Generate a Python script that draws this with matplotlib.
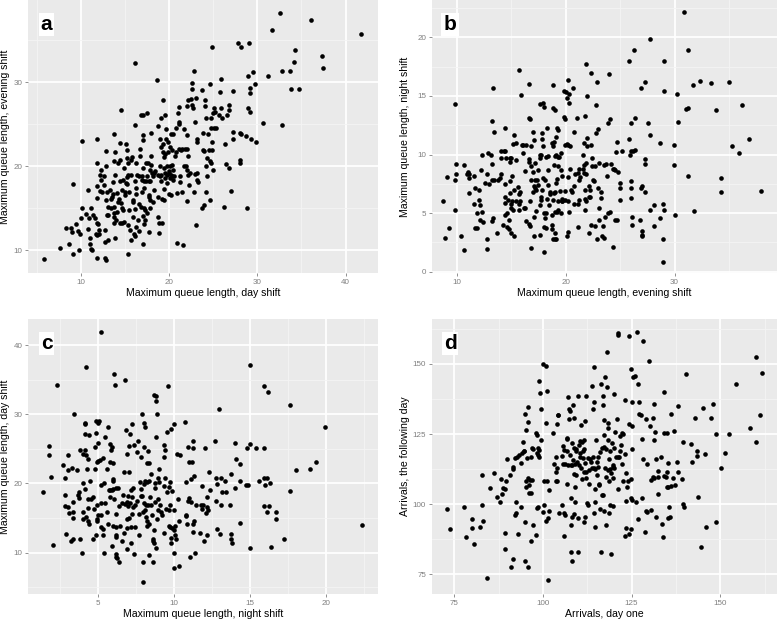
import numpy as np
import matplotlib
matplotlib.use("Agg")
import matplotlib.pyplot as plt
from matplotlib.ticker import MultipleLocator

plt.rcParams['font.family'] = ['Liberation Sans', 'DejaVu Sans']

# (day shift, evening shift) maximum queue lengths
day_evening = [
    (5.8, 9.0), (7.7, 10.3), (8.3, 12.6), (8.7, 10.7), (8.9, 12.7), (9.0, 12.2), (9.1, 9.6), (9.1, 17.9),
    (9.5, 13.1), (9.7, 12.3), (9.8, 10.0), (9.9, 11.9), (10.0, 13.9), (10.1, 15.0), (10.2, 23.0), (10.6, 14.3),
    (10.8, 17.2), (10.8, 12.5), (10.9, 13.8), (11.0, 11.5), (11.1, 10.8), (11.2, 10.2), (11.3, 10.0), (11.2, 15.0),
    (11.4, 14.2), (11.6, 13.8), (11.7, 12.0), (11.8, 11.8), (11.8, 9.1), (11.8, 13.3), (11.8, 23.2), (11.8, 20.4),
    (11.9, 16.2), (11.9, 17.6), (12.0, 13.1), (12.1, 12.4), (12.1, 12.0), (12.2, 19.0), (12.2, 17.1), (12.3, 19.6),
    (12.3, 18.4), (12.4, 17.0), (12.6, 17.8), (12.6, 18.9), (12.7, 12.4), (12.8, 9.1), (12.8, 11.0), (12.9, 8.8),
    (12.9, 16.0), (12.9, 20.0), (12.9, 21.8), (13.0, 14.2), (13.0, 17.0), (13.1, 11.2), (13.1, 14.2), (13.1, 15.2),
    (13.3, 17.2), (13.4, 16.1), (13.4, 15.0), (13.6, 16.4), (13.7, 18.1), (13.7, 16.7), (13.8, 14.0), (13.8, 13.3),
    (13.8, 14.4), (13.8, 15.2), (13.8, 20.6), (13.8, 23.8), (13.9, 21.7), (13.9, 19.0), (13.9, 11.5), (14.0, 13.6),
    (14.1, 14.6), (14.1, 16.8), (14.2, 20.4), (14.2, 15.8), (14.3, 16.1), (14.4, 22.8), (14.5, 13.2), (14.5, 18.3),
    (14.5, 20.8), (14.6, 15.6), (14.6, 26.7), (14.7, 17.2), (14.7, 15.0), (14.7, 13.3), (14.8, 18.4), (14.8, 14.8),
    (14.9, 13.4), (14.9, 19.8), (15.0, 16.6), (15.0, 17.0), (15.1, 22.7), (15.1, 18.0), (15.2, 17.9), (15.2, 18.7),
    (15.2, 21.0), (15.2, 22.0), (15.3, 13.0), (15.3, 9.6), (15.4, 20.4), (15.4, 19.0), (15.5, 14.8), (15.5, 17.0),
    (15.6, 12.4), (15.7, 11.2), (15.7, 19.0), (15.7, 20.8), (15.8, 21.1), (15.9, 14.0), (15.9, 16.0), (15.9, 15.7),
    (16.0, 12.0), (16.1, 11.7), (16.1, 14.9), (16.2, 32.3), (16.2, 18.3), (16.2, 24.9), (16.3, 12.8), (16.3, 16.7),
    (16.3, 17.4), (16.3, 20.4), (16.4, 19.0), (16.5, 13.6), (16.6, 12.3), (16.6, 15.5), (16.6, 18.9), (16.7, 22.1),
    (16.7, 21.2), (16.8, 26.1), (16.8, 15.2), (16.9, 16.9), (16.9, 18.4), (16.9, 18.9), (17.0, 19.8), (17.0, 10.8),
    (17.1, 23.1), (17.1, 26.1), (17.1, 14.1), (17.1, 23.7), (17.2, 15.0), (17.2, 17.4), (17.2, 18.3), (17.2, 13.1),
    (17.3, 14.8), (17.3, 13.6), (17.4, 18.3), (17.4, 20.4), (17.5, 14.5), (17.5, 18.8), (17.5, 26.3), (17.6, 20.4),
    (17.7, 12.2), (17.7, 16.6), (17.7, 18.2), (17.7, 16.3), (17.8, 18.2), (17.9, 16.0), (17.9, 19.6), (17.9, 15.0),
    (18.0, 24.0), (18.0, 20.2), (18.0, 21.2), (18.1, 19.2), (18.2, 18.8), (18.2, 15.8), (18.3, 17.2), (18.3, 19.2),
    (18.4, 19.4), (18.6, 30.3), (18.7, 14.0), (18.7, 19.0), (18.8, 24.8), (18.8, 16.3), (18.9, 12.1), (18.9, 13.2),
    (19.0, 18.8), (19.0, 23.3), (19.0, 20.0), (19.1, 25.7), (19.1, 18.2), (19.1, 22.3), (19.1, 19.0), (19.2, 16.1),
    (19.2, 13.3), (19.3, 27.9), (19.3, 21.7), (19.3, 22.7), (19.4, 17.3), (19.4, 16.0), (19.4, 19.8), (19.4, 21.1),
    (19.5, 19.2), (19.5, 26.1), (19.5, 18.6), (19.6, 21.5), (19.7, 23.3), (19.7, 24.4), (19.8, 18.0), (19.8, 19.0),
    (19.8, 20.0), (19.9, 21.7), (19.9, 22.9), (20.0, 19.4), (20.0, 16.7), (20.0, 19.2), (20.1, 20.0), (20.1, 18.6),
    (20.1, 22.3), (20.2, 16.6), (20.2, 19.0), (20.2, 23.9), (20.3, 21.9), (20.3, 18.8), (20.3, 20.1), (20.4, 23.8),
    (20.5, 18.4), (20.5, 19.6), (20.6, 18.8), (20.7, 21.2), (20.8, 24.6), (20.8, 21.7), (20.9, 10.9), (20.9, 16.8),
    (21.0, 26.3), (21.1, 27.1), (21.1, 22.1), (21.1, 25.3), (21.1, 25.0), (21.2, 18.8), (21.3, 18.1), (21.4, 22.0),
    (21.5, 16.9), (21.5, 22.1), (21.6, 10.6), (21.7, 20.0), (21.7, 24.5), (21.8, 22.1), (21.9, 20.0), (22.0, 27.2),
    (22.0, 15.9), (22.0, 19.6), (22.0, 23.7), (22.0, 22.1), (22.1, 27.9), (22.2, 19.0), (22.2, 21.2), (22.3, 17.8),
    (22.4, 19.2), (22.5, 28.0), (22.6, 27.3), (22.6, 29.2), (22.6, 29.9), (22.7, 26.9), (22.8, 16.9), (22.8, 31.3),
    (22.9, 19.1), (23.0, 25.3), (23.1, 13.0), (23.1, 28.1), (23.2, 23.3), (23.2, 19.2), (23.2, 18.4), (23.3, 18.1),
    (23.2, 22.9), (23.7, 29.1), (23.7, 15.0), (23.8, 21.9), (23.9, 24.0), (24.0, 21.8), (24.0, 15.4), (24.1, 27.9),
    (24.1, 27.2), (24.2, 17.0), (24.2, 20.0), (24.2, 25.7), (24.3, 18.8), (24.3, 21.0), (24.4, 23.8), (24.5, 21.9),
    (24.6, 20.6), (24.6, 29.8), (24.6, 16.0), (24.7, 20.4), (24.8, 24.6), (24.8, 25.7), (24.9, 22.9), (24.9, 34.2),
    (24.9, 21.9), (25.0, 19.6), (25.0, 26.4), (25.1, 24.6), (25.1, 26.9), (25.2, 26.5), (25.3, 24.6), (25.7, 26.1),
    (25.8, 28.8), (25.9, 30.4), (25.9, 26.9), (26.0, 25.8), (26.2, 15.2), (26.3, 22.7), (26.4, 20.3), (26.6, 26.1),
    (26.8, 26.7), (26.8, 19.8), (26.8, 27.3), (27.0, 17.1), (27.2, 24.1), (27.2, 29.0), (27.2, 23.3), (27.8, 34.7),
    (28.0, 24.0), (28.0, 20.8), (28.0, 20.4), (28.1, 34.2), (28.1, 23.9), (28.7, 23.6), (28.8, 15.0), (28.9, 27.0),
    (29.0, 30.8), (29.1, 34.7), (29.2, 26.5), (29.2, 29.3), (29.2, 28.7), (29.3, 23.3), (29.5, 31.2), (29.7, 29.8),
    (29.9, 22.9), (30.7, 25.2), (31.2, 30.8), (31.7, 36.2), (32.6, 38.3), (32.8, 24.9), (32.8, 31.4), (33.7, 31.3),
    (33.8, 29.2), (34.1, 32.4), (34.3, 33.8), (34.7, 29.2), (36.1, 37.4), (37.3, 33.1), (37.4, 31.7), (41.8, 35.7),
]

# (evening shift, night shift) maximum queue lengths
evening_night = [
    (8.7, 6.0), (8.9, 2.9), (9.1, 8.1), (9.3, 3.7), (9.8, 14.3), (9.8, 7.8), (9.8, 5.3), (9.9, 9.2),
    (9.9, 8.3), (10.4, 3.0), (10.7, 9.1), (10.7, 1.85), (10.9, 8.3), (11.0, 8.5), (11.1, 6.7), (11.1, 8.0),
    (11.1, 8.3), (11.6, 8.2), (11.6, 5.8), (11.7, 7.1), (11.7, 3.7), (11.9, 3.7), (11.9, 5.0), (12.0, 6.1),
    (12.0, 7.0), (12.1, 5.7), (12.1, 4.4), (12.2, 8.7), (12.3, 10.0), (12.3, 5.1), (12.4, 4.2), (12.6, 7.6),
    (12.8, 1.9), (12.8, 2.8), (12.8, 8.3), (12.9, 10.1), (13.0, 7.5), (13.1, 10.0), (13.2, 7.8), (13.2, 4.3),
    (13.2, 9.2), (13.2, 12.9), (13.3, 4.6), (13.3, 15.7), (13.4, 11.9), (13.4, 7.8), (13.7, 3.3), (13.8, 7.8),
    (14.0, 8.0), (14.1, 8.3), (14.1, 10.3), (14.1, 9.7), (14.2, 4.0), (14.3, 10.3), (14.4, 12.3), (14.4, 10.3),
    (14.4, 7.5), (14.4, 6.4), (14.4, 5.9), (14.4, 4.8), (14.5, 9.7), (14.6, 5.0), (14.6, 3.8), (14.7, 6.1),
    (14.8, 3.6), (14.8, 4.4), (14.9, 9.4), (14.9, 6.7), (14.9, 7.7), (14.9, 9.7), (15.0, 5.4), (15.0, 5.8),
    (15.0, 3.3), (15.0, 9.7), (15.1, 6.0), (15.1, 8.2), (15.2, 10.9), (15.2, 5.3), (15.3, 3.0), (15.3, 11.7),
    (15.3, 7.0), (15.4, 11.0), (15.4, 9.5), (15.4, 6.0), (15.6, 7.2), (15.7, 17.2), (15.7, 6.6), (15.7, 5.3),
    (15.7, 5.8), (15.8, 6.0), (15.8, 6.8), (15.9, 15.1), (16.0, 10.8), (16.1, 10.1), (16.1, 10.8), (16.2, 5.4),
    (16.3, 5.4), (16.3, 8.6), (16.4, 10.8), (16.4, 4.3), (16.6, 9.6), (16.6, 16.0), (16.6, 13.1), (16.7, 13.0),
    (16.6, 9.4), (16.6, 4.1), (16.7, 6.0), (16.7, 3.9), (16.8, 2.0), (16.8, 10.7), (16.8, 7.8), (16.8, 9.0),
    (17.0, 6.8), (17.0, 8.5), (17.0, 11.9), (17.1, 7.3), (17.1, 4.7), (17.1, 3.0), (17.1, 11.2), (17.2, 9.3),
    (17.2, 7.1), (17.2, 7.8), (17.3, 5.2), (17.3, 7.0), (17.4, 7.8), (17.5, 7.4), (17.5, 8.7), (17.6, 9.7),
    (17.6, 10.0), (17.6, 3.1), (17.6, 5.7), (17.6, 14.3), (17.7, 6.1), (17.7, 6.4), (17.7, 10.0), (17.8, 7.0),
    (17.8, 11.3), (17.8, 11.8), (17.9, 14.4), (17.9, 10.7), (17.9, 8.0), (18.0, 14.1), (18.0, 5.0), (18.0, 3.8),
    (18.0, 1.7), (18.1, 7.8), (18.1, 4.6), (18.2, 3.7), (18.2, 9.8), (18.2, 5.0), (18.3, 6.2), (18.3, 12.3),
    (18.4, 8.7), (18.4, 9.9), (18.4, 7.4), (18.5, 5.7), (18.6, 6.6), (18.6, 6.8), (18.7, 4.0), (18.7, 11.0),
    (18.7, 4.8), (18.7, 3.6), (18.8, 6.1), (18.8, 15.9), (18.8, 2.8), (18.8, 10.7), (18.8, 14.0), (18.9, 11.1),
    (18.9, 9.1), (18.9, 6.7), (19.0, 13.8), (19.0, 2.8), (19.0, 9.9), (19.0, 3.3), (19.0, 5.1), (19.0, 6.8),
    (19.1, 11.5), (19.1, 2.8), (19.1, 10.0), (19.1, 7.6), (19.2, 7.9), (19.2, 5.1), (19.2, 12.3), (19.3, 12.1),
    (19.3, 9.8), (19.3, 9.0), (19.3, 6.0), (19.3, 5.3), (19.4, 9.8), (19.5, 6.9), (19.6, 10.1), (19.6, 8.7),
    (19.6, 5.0), (19.7, 6.0), (19.7, 6.0), (19.7, 8.2), (19.7, 6.2), (19.8, 13.2), (19.8, 15.4), (19.9, 13.0),
    (19.9, 10.8), (19.9, 6.9), (19.9, 6.1), (20.0, 15.3), (20.1, 14.8), (20.1, 3.0), (20.1, 10.9), (20.2, 16.4),
    (20.2, 10.8), (20.2, 3.4), (20.2, 8.1), (20.2, 6.0), (20.3, 15.2), (20.3, 14.4), (20.3, 5.1), (20.4, 10.7),
    (20.4, 8.8), (20.5, 7.0), (20.6, 6.8), (20.7, 15.7), (20.8, 11.9), (20.8, 7.3), (20.8, 5.8), (20.9, 8.3),
    (21.0, 13.1), (21.1, 3.8), (21.1, 5.8), (21.1, 8.4), (21.2, 8.8), (21.2, 6.1), (21.2, 7.8), (21.3, 8.1),
    (21.6, 8.8), (21.6, 10.0), (21.7, 11.0), (21.7, 9.1), (21.7, 8.4), (21.8, 7.0), (21.8, 6.2), (21.8, 5.3),
    (21.8, 13.3), (21.9, 17.7), (21.9, 9.3), (21.9, 8.3), (21.9, 6.0), (22.0, 11.4), (22.0, 15.0), (22.0, 10.7),
    (22.1, 6.4), (22.1, 7.3), (22.1, 3.3), (22.2, 7.0), (22.2, 6.4), (22.3, 10.8), (22.3, 4.0), (22.3, 17.0),
    (22.4, 9.7), (22.4, 9.0), (22.5, 7.8), (22.6, 7.7), (22.7, 3.9), (22.7, 9.0), (22.8, 14.2), (22.8, 11.8),
    (22.9, 16.2), (22.9, 2.8), (23.0, 7.1), (23.0, 12.2), (23.1, 4.4), (23.1, 9.3), (23.1, 5.4), (23.2, 6.3),
    (23.2, 6.8), (23.3, 3.0), (23.4, 3.9), (23.5, 2.9), (23.5, 9.1), (23.6, 4.7), (23.7, 9.2), (23.8, 8.2),
    (23.9, 12.7), (23.9, 5.0), (24.0, 16.9), (24.1, 13.0), (24.1, 5.1), (24.2, 9.2), (24.3, 2.1), (24.3, 8.8),
    (24.4, 8.8), (24.5, 4.4), (24.5, 8.7), (24.6, 10.2), (24.7, 11.1), (24.7, 4.4), (24.8, 8.5), (25.0, 7.6),
    (25.0, 6.1), (25.0, 7.1), (25.2, 10.3), (25.8, 18.0), (25.8, 11.3), (25.9, 10.0), (26.0, 7.7), (26.0, 7.1),
    (26.0, 6.3), (26.0, 12.7), (26.0, 10.3), (26.1, 4.7), (26.1, 4.0), (26.2, 10.3), (26.3, 18.9), (26.4, 13.1),
    (26.4, 10.4), (26.8, 4.4), (26.9, 15.7), (26.9, 7.1), (27.0, 7.3), (27.0, 3.1), (27.0, 3.5), (27.0, 3.0),
    (27.3, 6.8), (27.3, 16.2), (27.3, 9.2), (27.3, 9.6), (27.6, 12.7), (27.7, 19.9), (27.7, 5.3), (27.7, 11.7),
    (28.1, 5.7), (28.1, 3.9), (28.7, 11.0), (28.7, 4.6), (28.9, 2.8), (28.9, 5.8), (29.0, 5.3), (29.0, 15.4),
    (29.0, 18.0), (28.9, 0.85), (29.9, 10.8), (29.9, 9.1), (30.0, 4.8), (30.2, 15.2), (30.3, 12.8), (30.9, 22.2),
    (31.0, 13.9), (31.2, 14.0), (31.2, 18.9), (31.2, 8.2), (31.7, 15.9), (31.8, 5.2), (32.3, 16.3), (33.3, 16.1),
    (33.8, 13.8), (34.3, 8.0), (34.3, 6.8), (35.0, 16.2), (35.3, 10.7), (35.9, 10.1), (36.2, 14.2), (36.8, 11.3),
    (37.9, 6.9),
]

# (night shift, day shift) maximum queue lengths
night_day = [
    (1.37, 18.7), (1.77, 25.4), (1.77, 24.1), (1.86, 20.9), (2.03, 11.1), (2.32, 34.2), (2.65, 22.7), (2.8, 20.8),
    (2.8, 18.3), (2.8, 16.8), (2.91, 12.7), (2.98, 21.9), (3.02, 24.1), (3.02, 16.6), (3.09, 15.7), (3.22, 11.6),
    (3.3, 22.2), (3.33, 15.8), (3.35, 11.9), (3.35, 17.3), (3.37, 15.0), (3.4, 30.0), (3.6, 21.9), (3.68, 18.4),
    (3.72, 18.7), (3.75, 17.9), (3.8, 24.9), (3.8, 11.9), (3.9, 10.0), (4.0, 24.3), (4.0, 20.0), (4.0, 14.9),
    (4.0, 15.8), (4.1, 24.9), (4.1, 28.8), (4.1, 28.6), (4.1, 27.2), (4.14, 19.2), (4.17, 15.1), (4.2, 24.1),
    (4.2, 36.9), (4.27, 22.1), (4.3, 23.5), (4.3, 14.6), (4.34, 17.8), (4.34, 16.4), (4.36, 27.0), (4.4, 14.2),
    (4.45, 20.4), (4.5, 17.7), (4.67, 12.0), (4.67, 18.1), (4.7, 16.3), (4.76, 25.3), (4.78, 22.1), (4.82, 27.3),
    (4.85, 29.1), (4.87, 12.5), (4.9, 16.9), (4.9, 23.1), (4.9, 14.9), (4.93, 14.5), (4.96, 15.5), (5.0, 23.2),
    (5.0, 28.7), (5.0, 25.9), (5.07, 29.1), (5.1, 23.4), (5.15, 17.1), (5.17, 13.7), (5.2, 15.4), (5.2, 41.9),
    (5.2, 19.8), (5.3, 13.4), (5.3, 23.7), (5.33, 12.6), (5.37, 20.1), (5.4, 10.0), (5.42, 26.7), (5.46, 17.2),
    (5.55, 22.1), (5.6, 15.9), (5.66, 14.2), (5.66, 28.2), (5.7, 19.0), (5.77, 19.0), (5.8, 23.1), (5.8, 25.7),
    (5.8, 18.0), (5.83, 24.9), (5.88, 19.0), (5.88, 25.3), (5.92, 11.0), (5.95, 13.9), (5.97, 19.2), (6.0, 20.3),
    (6.0, 20.7), (6.0, 22.9), (6.03, 17.8), (6.05, 35.8), (6.1, 34.2), (6.14, 13.7), (6.14, 19.3), (6.16, 15.6),
    (6.16, 12.6), (6.16, 12.2), (6.2, 9.8), (6.2, 9.3), (6.25, 9.2), (6.3, 19.3), (6.38, 8.6), (6.38, 16.8),
    (6.43, 13.9), (6.54, 11.6), (6.58, 17.1), (6.65, 18.4), (6.7, 12.9), (6.7, 21.7), (6.74, 17.0), (6.78, 35.0),
    (6.82, 27.7), (6.87, 14.9), (6.87, 13.6), (6.9, 17.3), (6.9, 24.3), (6.9, 10.5), (6.96, 18.2), (6.98, 16.8),
    (7.0, 25.4), (7.04, 21.6), (7.04, 15.0), (7.1, 17.1), (7.1, 27.2), (7.13, 13.7), (7.15, 11.4), (7.18, 19.0),
    (7.2, 28.6), (7.2, 18.0), (7.24, 15.6), (7.3, 19.3), (7.3, 16.6), (7.35, 9.8), (7.37, 25.6), (7.4, 13.7),
    (7.42, 16.9), (7.53, 17.4), (7.53, 24.6), (7.64, 26.1), (7.68, 12.5), (7.7, 15.6), (7.75, 20.2), (7.8, 18.2),
    (7.82, 23.8), (7.84, 19.2), (7.86, 30.0), (7.9, 18.2), (7.92, 8.7), (7.97, 5.8), (7.97, 15.8), (8.0, 17.2),
    (8.0, 28.7), (8.03, 19.9), (8.03, 25.3), (8.08, 20.4), (8.1, 28.2), (8.1, 16.2), (8.14, 16.9), (8.14, 15.1),
    (8.2, 22.9), (8.2, 14.5), (8.2, 13.9), (8.23, 20.2), (8.25, 24.7), (8.3, 16.9), (8.32, 9.7), (8.34, 22.9),
    (8.36, 20.3), (8.36, 14.2), (8.4, 18.0), (8.45, 21.3), (8.5, 16.9), (8.55, 15.5), (8.63, 12.0), (8.63, 11.6),
    (8.63, 8.7), (8.65, 13.3), (8.67, 11.4), (8.67, 32.8), (8.73, 19.3), (8.73, 20.1), (8.76, 17.3), (8.8, 26.7),
    (8.8, 10.6), (8.8, 32.0), (8.8, 32.7), (8.85, 14.9), (8.85, 30.1), (8.9, 17.8), (8.93, 16.2), (8.96, 20.8),
    (9.0, 22.1), (9.02, 20.2), (9.07, 16.9), (9.1, 15.9), (9.18, 15.4), (9.3, 12.9), (9.3, 23.8), (9.33, 25.6),
    (9.35, 19.7), (9.4, 24.8), (9.4, 20.8), (9.46, 16.3), (9.5, 18.7), (9.55, 27.5), (9.6, 34.1), (9.64, 13.9),
    (9.66, 16.1), (9.68, 19.5), (9.7, 16.9), (9.73, 13.7), (9.73, 20.2), (9.77, 11.4), (9.77, 27.9), (9.8, 12.1),
    (9.84, 13.5), (9.88, 18.9), (9.95, 16.1), (9.95, 9.95), (10.0, 28.6), (10.0, 7.7), (10.0, 13.2), (10.06, 12.5),
    (10.08, 13.8), (10.1, 12.0), (10.2, 24.2), (10.27, 17.8), (10.3, 8.0), (10.34, 14.6), (10.4, 24.1), (10.7, 28.9),
    (10.76, 15.3), (10.8, 15.5), (10.8, 20.2), (10.87, 14.1), (10.9, 25.3), (10.9, 17.5), (10.98, 23.1), (11.0, 17.9),
    (11.04, 9.3), (11.1, 20.6), (11.1, 17.3), (11.15, 23.1), (11.2, 25.1), (11.2, 13.0), (11.2, 26.2), (11.26, 14.1),
    (11.3, 21.1), (11.33, 14.5), (11.37, 10.0), (11.4, 16.9), (11.7, 12.9), (11.77, 16.9), (11.8, 19.6), (11.8, 16.3),
    (11.88, 16.9), (11.97, 11.7), (12.0, 25.1), (12.08, 15.7), (12.14, 18.0), (12.14, 12.6), (12.14, 16.6), (12.25, 16.2),
    (12.3, 21.7), (12.36, 19.0), (12.7, 26.1), (12.76, 17.5), (12.76, 20.8), (12.8, 19.9), (12.8, 13.4), (12.96, 30.8),
    (13.0, 12.7), (13.07, 20.8), (13.1, 16.9), (13.13, 18.7), (13.35, 20.3), (13.4, 18.7), (13.64, 16.9), (13.7, 12.0),
    (13.73, 21.3), (13.75, 12.7), (13.8, 11.4), (14.0, 25.9), (14.0, 19.3), (14.05, 23.5), (14.3, 22.8), (14.3, 14.3),
    (14.34, 20.4), (14.74, 19.8), (14.8, 25.1), (14.85, 19.8), (14.96, 25.7), (14.96, 37.1), (14.96, 10.6), (15.35, 25.1),
    (15.6, 20.3), (15.9, 34.1), (15.9, 25.1), (15.9, 16.8), (15.9, 20.8), (16.0, 19.8), (16.1, 15.8), (16.1, 20.8),
    (16.14, 33.2), (16.2, 16.8), (16.3, 20.0), (16.36, 10.8), (16.7, 14.9), (16.7, 15.9), (17.24, 11.9), (17.6, 31.4),
    (17.6, 18.9), (18.0, 22.0), (18.96, 22.1), (19.3, 23.1), (19.9, 28.1), (22.36, 14.0),
]

# (arrivals day one, arrivals the following day)
arrivals_pairs = [
    (73.0, 98.2), (73.8, 91.2), (77.8, 99.1), (78.2, 88.2), (79.9, 94.7), (79.9, 91.6), (80.6, 85.7), (82.2, 92.0),
    (82.7, 99.7), (82.9, 110.4), (83.2, 94.0), (84.2, 73.6), (85.1, 105.7), (86.3, 111.0), (87.1, 102.7), (87.9, 100.9),
    (88.1, 109.0), (88.5, 103.5), (88.8, 105.7), (89.3, 105.3), (89.3, 89.9), (89.4, 84.0), (89.6, 108.3), (89.9, 116.1),
    (90.7, 110.4), (91.0, 77.7), (91.4, 112.5), (91.6, 80.5), (91.6, 113.2), (92.1, 116.4), (92.1, 96.2), (92.3, 100.9),
    (92.4, 97.0), (92.6, 117.0), (93.0, 89.3), (93.3, 117.6), (93.7, 99.1), (93.8, 114.6), (94.0, 118.4), (94.3, 122.1),
    (94.5, 118.8), (94.7, 119.0), (94.9, 132.2), (94.9, 79.8), (95.0, 93.5), (95.1, 108.1), (95.2, 126.5), (95.2, 106.3),
    (95.4, 116.4), (95.7, 129.2), (95.9, 134.8), (95.9, 109.5), (95.9, 77.5), (96.1, 103.9), (96.1, 106.9), (96.3, 108.7),
    (96.5, 103.9), (96.5, 117.0), (96.6, 86.9), (96.8, 108.7), (97.0, 120.2), (97.1, 92.6), (97.2, 119.7), (97.9, 89.0),
    (98.0, 125.3), (98.2, 118.1), (98.2, 124.7), (98.4, 98.8), (98.5, 117.6), (98.7, 120.2), (98.7, 99.1), (98.9, 144.0),
    (99.0, 119.4), (99.0, 117.0), (99.2, 139.6), (99.4, 122.9), (99.4, 133.9), (100.1, 150.0), (100.1, 97.1), (100.2, 99.7),
    (100.3, 108.4), (100.8, 149.3), (100.8, 94.0), (100.8, 128.9), (101.0, 140.2), (101.0, 108.1), (101.3, 95.0), (101.5, 73.0),
    (101.7, 97.4), (101.8, 105.1), (102.9, 125.3), (103.2, 114.2), (103.6, 117.0), (103.6, 111.6), (103.8, 108.3), (103.9, 128.5),
    (104.0, 112.8), (104.0, 108.1), (104.1, 131.8), (104.3, 131.8), (104.6, 96.8), (105.3, 99.7), (105.3, 117.2), (105.5, 114.2),
    (105.5, 120.9), (105.8, 96.8), (105.9, 88.8), (106.0, 119.4), (106.2, 96.2), (106.2, 114.2), (106.7, 123.3), (106.7, 107.1),
    (106.9, 123.5), (106.9, 119.0), (107.0, 138.1), (107.1, 114.0), (107.4, 130.4), (107.4, 134.0), (107.6, 133.3), (107.6, 117.6),
    (107.8, 102.1), (107.8, 83.1), (107.9, 114.0), (107.9, 92.6), (108.1, 79.8), (108.1, 113.8), (108.3, 95.6), (108.3, 121.7),
    (108.4, 135.2), (108.5, 115.8), (108.6, 110.7), (108.7, 130.6), (108.8, 96.5), (108.8, 119.9), (109.0, 100.9), (109.0, 106.3),
    (109.0, 114.2), (109.2, 118.8), (109.3, 119.6), (109.3, 110.4), (109.5, 115.2), (109.8, 83.1), (110.0, 95.2), (110.0, 138.4),
    (110.2, 121.2), (110.2, 114.0), (110.3, 116.7), (110.4, 122.6), (110.4, 118.4), (110.7, 128.2), (110.7, 112.8), (110.9, 122.3),
    (111.1, 109.0), (111.2, 118.8), (111.4, 116.4), (111.5, 111.4), (111.6, 119.6), (111.7, 93.5), (111.7, 123.0), (111.8, 114.6),
    (111.8, 95.5), (111.9, 129.5), (112.0, 138.7), (112.1, 111.6), (112.1, 109.2), (112.5, 100.3), (112.6, 99.7), (112.8, 116.6),
    (113.0, 112.2), (113.1, 107.1), (113.3, 116.1), (113.5, 115.0), (113.7, 112.8), (113.9, 142.2), (114.1, 117.0), (114.2, 134.0),
    (114.3, 112.8), (114.5, 96.8), (114.4, 136.4), (114.3, 149.0), (114.7, 100.9), (114.7, 112.6), (114.7, 105.3), (114.8, 92.0),
    (114.9, 122.9), (115.1, 115.2), (115.3, 110.4), (115.4, 116.7), (115.6, 113.4), (115.8, 106.9), (115.9, 107.1), (116.1, 98.3),
    (116.1, 118.5), (116.3, 142.9), (116.4, 83.1), (116.5, 103.3), (116.7, 119.9), (116.8, 135.2), (116.9, 103.3), (116.9, 138.7),
    (117.2, 124.7), (117.2, 120.5), (117.3, 130.1), (117.3, 97.4), (117.5, 145.2), (117.5, 112.8), (117.7, 119.7), (117.8, 109.8),
    (117.9, 92.6), (118.1, 154.4), (118.1, 141.9), (118.2, 122.9), (118.2, 128.9), (118.4, 127.1), (118.4, 112.2), (118.6, 116.1),
    (118.6, 108.1), (118.7, 96.8), (118.9, 112.6), (119.0, 119.0), (119.0, 99.7), (119.2, 111.0), (119.2, 82.1), (119.4, 121.7),
    (119.6, 109.2), (119.6, 114.0), (119.7, 99.4), (119.8, 113.1), (119.9, 119.9), (120.1, 139.2), (120.1, 112.8), (120.3, 125.9),
    (120.6, 117.0), (120.8, 130.3), (121.1, 117.0), (121.1, 161.0), (121.2, 105.4), (121.2, 160.4), (121.5, 117.0), (121.7, 124.3),
    (121.7, 118.8), (121.9, 121.1), (122.2, 125.3), (122.4, 114.2), (122.5, 124.9), (122.7, 108.1), (123.0, 117.8), (123.2, 137.2),
    (123.2, 88.7), (123.4, 111.0), (123.4, 91.6), (123.4, 101.2), (123.8, 106.3), (124.1, 108.1), (124.2, 89.3), (124.3, 160.1),
    (124.3, 128.5), (124.7, 148.2), (124.7, 91.2), (124.7, 102.3), (124.8, 109.0), (125.0, 119.7), (125.0, 128.0), (125.2, 136.6),
    (125.2, 101.5), (125.5, 145.3), (126.0, 145.7), (126.1, 100.7), (126.4, 161.3), (126.9, 142.9), (126.9, 94.7), (127.1, 136.4),
    (127.1, 132.2), (127.6, 131.8), (128.0, 123.2), (128.0, 102.1), (128.1, 116.0), (128.3, 158.0), (128.8, 90.2), (129.0, 130.3),
    (129.0, 97.7), (129.2, 114.2), (129.4, 97.1), (129.9, 151.2), (130.2, 128.0), (130.4, 108.7), (130.5, 97.9), (131.0, 130.6),
    (131.1, 109.8), (131.3, 135.8), (131.4, 122.9), (131.4, 109.2), (131.6, 125.9), (131.8, 116.1), (132.0, 95.3), (132.3, 112.0),
    (132.3, 109.6), (132.5, 103.5), (133.3, 117.0), (133.7, 93.0), (133.9, 88.2), (134.0, 140.0), (134.1, 125.3), (134.2, 110.2),
    (134.6, 109.8), (134.9, 106.3), (134.9, 125.3), (135.1, 111.6), (135.2, 114.6), (135.3, 95.0), (135.3, 106.3), (135.6, 99.1),
    (135.8, 95.6), (136.0, 106.6), (136.1, 132.2), (136.7, 109.2), (137.0, 126.1), (137.2, 106.9), (137.9, 115.0), (138.2, 111.6),
    (138.2, 135.0), (139.1, 109.0), (139.4, 122.0), (139.6, 100.0), (139.8, 98.9), (140.3, 146.3), (141.7, 121.4), (141.9, 115.2),
    (142.9, 130.6), (143.3, 117.3), (143.4, 119.0), (143.8, 102.7), (144.7, 84.6), (145.0, 134.2), (145.7, 117.8), (145.9, 92.0),
    (147.4, 130.6), (148.0, 135.8), (148.8, 125.1), (148.8, 93.8), (150.1, 112.8), (151.3, 118.2), (152.4, 124.9), (154.4, 142.9),
    (158.4, 127.1), (160.0, 122.1), (160.1, 152.3), (161.2, 131.8), (161.7, 146.7),
]

W, H = 777, 619
fig = plt.figure(figsize=(W / 100, H / 100), dpi=100)


def panel(px_left, px_top, px_right, px_bottom):
    return fig.add_axes([px_left / W, 1 - px_bottom / H,
                         (px_right - px_left) / W, (px_bottom - px_top) / H])


def gg_style(ax, major, minor):
    ax.set_facecolor('#EAEAEA')
    for s in ax.spines.values():
        s.set_visible(False)
    ax.xaxis.set_major_locator(MultipleLocator(major[0]))
    ax.yaxis.set_major_locator(MultipleLocator(major[1]))
    ax.xaxis.set_minor_locator(MultipleLocator(minor[0]))
    ax.yaxis.set_minor_locator(MultipleLocator(minor[1]))
    ax.grid(True, which='major', color='white', linewidth=1.3)
    ax.grid(True, which='minor', color='#F4F4F4', linewidth=0.6)
    ax.set_axisbelow(True)
    ax.tick_params(which='major', length=2.5, width=0.6, color='#7F7F7F',
                   labelcolor='#7F7F7F', labelsize=5.8, pad=1.5)
    ax.tick_params(which='minor', length=0)


def draw(ax, pts, xlim, ylim, xlabel, ylabel, letter, major, minor, ylab_x):
    x, y = np.array(pts).T
    ax.scatter(x, y, s=11, color='black', linewidths=0, zorder=3)
    ax.set_xlim(*xlim)
    ax.set_ylim(*ylim)
    gg_style(ax, major, minor)
    ax.set_xlabel(xlabel, fontsize=7.6, labelpad=2)
    ax.set_ylabel(ylabel, fontsize=7.6)
    ax.yaxis.set_label_coords(ylab_x, 0.5)
    ax.text(0.053, 0.91, letter, transform=ax.transAxes, fontsize=15,
            fontweight='bold', ha='center', va='center', zorder=5,
            bbox=dict(facecolor='white', edgecolor='none', pad=1.5))


ax_a = panel(28, 0, 378, 273)
draw(ax_a, day_evening, (4.03, 43.67), (7.3, 39.8),
     'Maximum queue length, day shift', 'Maximum queue length, evening shift',
     'a', (10, 10), (5, 5), -0.05)

ax_b = panel(431.7, 0, 777, 273)
draw(ax_b, evening_night, (7.7, 39.4), (-0.12, 23.2),
     'Maximum queue length, evening shift', 'Maximum queue length, night shift',
     'b', (10, 5), (5, 2.5), -0.064)

ax_c = panel(28, 319, 378, 594)
draw(ax_c, night_day, (0.38, 23.4), (4.0, 43.8),
     'Maximum queue length, night shift', 'Maximum queue length, day shift',
     'c', (5, 10), (2.5, 5), -0.05)

ax_d = panel(431.7, 319, 777, 594)
draw(ax_d, arrivals_pairs, (68.6, 166.0), (68.0, 166.0),
     'Arrivals, day one', 'Arrivals, the following day',
     'd', (25, 25), (12.5, 12.5), -0.064)

fig.savefig('out.png', dpi=100)
